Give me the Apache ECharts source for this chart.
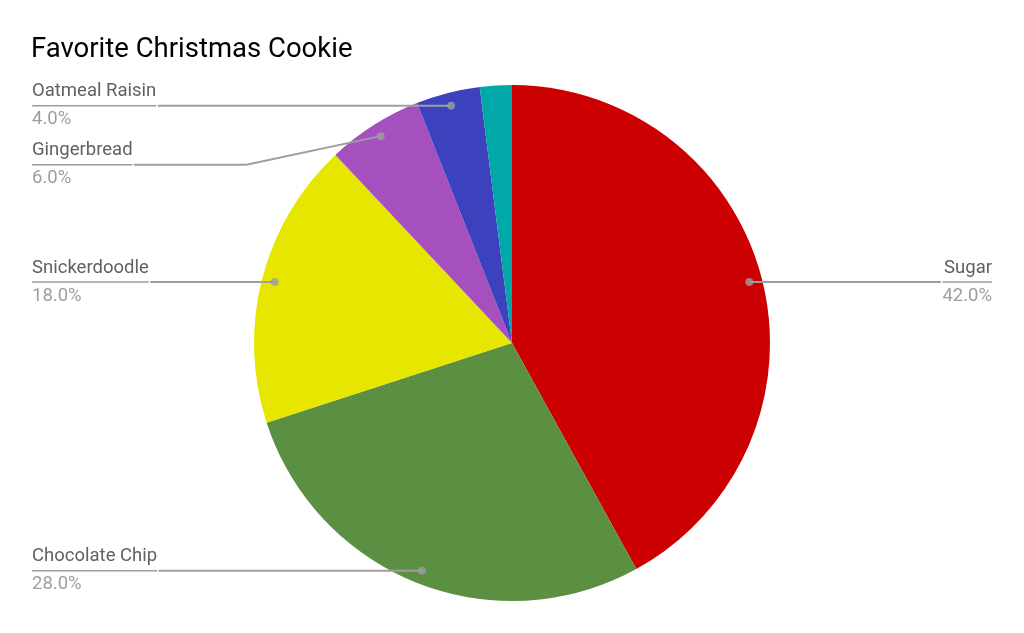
<!DOCTYPE html>
<html>
<head>
<meta charset="utf-8">
<script src="https://cdn.jsdelivr.net/npm/echarts@6/dist/echarts.min.js"></script>
<style>html,body{margin:0;padding:0;background:#fff;}#c{width:1024px;height:633px;}</style>
</head>
<body>
<div id="c"></div>
<script>
const categories = ['Sugar', 'Chocolate Chip', 'Snickerdoodle', 'Gingerbread', 'Oatmeal Raisin', 'Other'];
const values = [42, 28, 18, 6, 4, 2];
const colors = ['#cc0000', '#5b8f41', '#e6e600', '#a64fbf', '#3c41bd', '#00a8a8'];
const labelled = [true, true, true, true, true, false];

const total = values.reduce((a, b) => a + b, 0);
const R = 258;
const DOT_R = 245;
let cum = 0;
const mids = values.map(v => { const m = (cum + v / 2) / total * 100; cum += v; return m; });

const chart = echarts.init(document.getElementById('c'));
const F = 'Roboto, sans-serif';
chart.setOption({
  animation: false,
  title: {
    text: 'Favorite Christmas Cookie',
    left: 26, top: 31,
    textStyle: { fontFamily: F, fontSize: 27.5, fontWeight: 'normal', color: '#000' }
  },
  polar: { center: ['50%', 343], radius: R },
  angleAxis: { type: 'value', min: 0, max: 100, startAngle: 90, clockwise: true, show: false },
  radiusAxis: { type: 'value', min: 0, max: R, show: false },
  series: [
    {
      type: 'pie',
      center: ['50%', 343],
      radius: R,
      startAngle: 90,
      clockwise: true,
      silent: true,
      label: { show: false },
      labelLine: { show: false },
      data: categories.map((c, i) => ({ name: c, value: values[i], itemStyle: { color: colors[i] } }))
    },
    {
      type: 'pie',
      center: ['50%', 343],
      radius: DOT_R,
      startAngle: 90,
      clockwise: true,
      silent: true,
      z: 3,
      itemStyle: { color: 'rgba(0,0,0,0)' },
      label: {
        show: true,
        alignTo: 'edge',
        edgeDistance: 32,
        distanceToLabelLine: 0,
        minMargin: 12,
        fontFamily: F,
        formatter: p => '{name|' + p.name + '}\n{hr|}\n{per|' + p.percent.toFixed(1) + '%}',
        rich: {
          name: { fontFamily: F, fontSize: 18.5, color: '#616161', lineHeight: 28 },
          hr: { borderColor: '#9e9e9e', width: '100%', borderWidth: 1.5, height: 0 },
          per: { fontFamily: F, fontSize: 18.5, color: '#9e9e9e', lineHeight: 28 }
        }
      },
      labelLine: { show: true, length: 0, length2: 10, minTurnAngle: 168, maxSurfaceAngle: 180, lineStyle: { color: '#9e9e9e', width: 2 } },
      data: categories.map((c, i) => ({
        name: c, value: values[i],
        label: { show: labelled[i] },
        labelLine: { show: labelled[i] }
      }))
    },
    {
      type: 'scatter',
      coordinateSystem: 'polar',
      symbolSize: 8,
      z: 4,
      silent: true,
      itemStyle: { color: '#9e9e9e' },
      data: mids.map((m, i) => labelled[i] ? [DOT_R, m] : null).filter(d => d)
    }
  ]
});
</script>
</body>
</html>
